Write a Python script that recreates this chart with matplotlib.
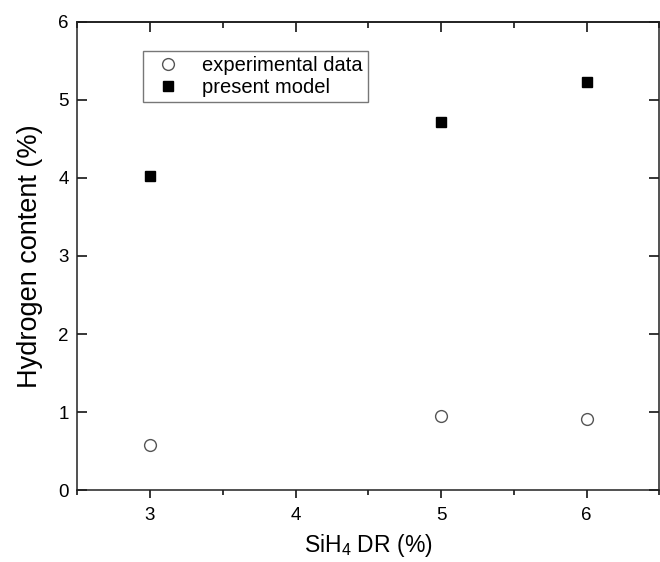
import matplotlib
matplotlib.use('Agg')
from matplotlib import pyplot as plt
from matplotlib.ticker import MultipleLocator

plt.rcParams['font.family'] = ['Liberation Sans', 'DejaVu Sans']
plt.rcParams['mathtext.default'] = 'regular'

# SiH4 dilution ratio (%) and hydrogen content (%)
dr = [3, 5, 6]
experimental = [0.58, 0.95, 0.91]
model = [4.03, 4.72, 5.23]

fig = plt.figure(figsize=(6.6, 5.62), dpi=100)
ax = fig.add_axes([0.117, 0.128, 0.882, 0.833])

ax.plot(dr, experimental, linestyle='none', marker='o', markersize=8.5,
        markerfacecolor='white', markeredgecolor='#555555', markeredgewidth=1.0,
        label='experimental data')
ax.plot(dr, model, linestyle='none', marker='s', markersize=7.5,
        color='black', label='present model')

ax.set_xlim(2.5, 6.5)
ax.set_ylim(0, 6)
ax.xaxis.set_major_locator(MultipleLocator(1))
ax.xaxis.set_minor_locator(MultipleLocator(0.5))
ax.yaxis.set_major_locator(MultipleLocator(1))

for s in ax.spines.values():
    s.set_linewidth(1.1)
    s.set_color('#222222')

# bottom ticks outward, the rest inward
ax.tick_params(axis='x', which='major', direction='out', length=6, width=1.1,
               labelsize=13.5, pad=6)
ax.tick_params(axis='x', which='minor', direction='out', length=3.5, width=1.1)
ax.tick_params(axis='y', which='major', direction='in', length=7, width=1.1,
               labelsize=13.5, left=True, right=True, pad=6)
secx = ax.secondary_xaxis('top')
secx.xaxis.set_major_locator(MultipleLocator(1))
secx.xaxis.set_minor_locator(MultipleLocator(0.5))
secx.tick_params(axis='x', which='major', direction='in', length=7, width=1.1, labeltop=False)
secx.tick_params(axis='x', which='minor', direction='in', length=4, width=1.1)
secx.spines['top'].set_linewidth(1.1)

ax.set_xlabel('SiH$_4$ DR (%)', fontsize=16.5, labelpad=6)
ax.set_ylabel('Hydrogen content (%)', fontsize=19.5, labelpad=11)

leg = ax.legend(loc='upper left', bbox_to_anchor=(0.113, 0.938), fontsize=14.5,
                frameon=True, fancybox=False, edgecolor='#555555',
                handletextpad=0.7, borderpad=0.25, labelspacing=0.15,
                handlelength=2.0, borderaxespad=0)
leg.get_frame().set_linewidth(1.0)

fig.savefig('out.png', dpi=100)
